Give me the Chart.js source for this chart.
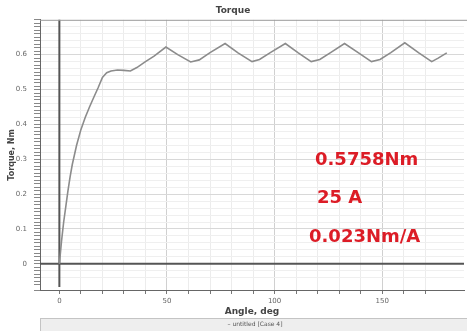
<!DOCTYPE html>
<html>
<head>
<meta charset="utf-8">
<script src="https://cdn.jsdelivr.net/npm/chart.js@4.4.1/dist/chart.umd.min.js"></script>
<style>
  html, body { margin: 0; padding: 0; background: #fff; }
  #wrap { width: 467px; height: 331px; position: relative; }
</style>
</head>
<body>
<div id="wrap"><canvas id="torqueChart"></canvas></div>
<script>
// data
const angles = [0, 1, 2, 3, 4, 5, 6, 8, 10, 12, 14, 16, 18, 20, 22, 24, 27, 30, 33, 36, 40, 44, 49.5,
  55, 61, 65, 70, 77, 83, 89.5, 93, 98, 105, 111, 117, 121, 126, 132.5, 139, 145, 149, 154, 160.5,
  167, 173, 176, 180];
const torque = [0, 0.065, 0.12, 0.165, 0.21, 0.25, 0.285, 0.34, 0.385, 0.42, 0.45, 0.478, 0.505, 0.535,
  0.548, 0.553, 0.556, 0.555, 0.553, 0.563, 0.58, 0.596, 0.622,
  0.6, 0.579, 0.585, 0.606, 0.632, 0.605, 0.58, 0.586, 0.606, 0.632, 0.605, 0.58, 0.586, 0.606, 0.632,
  0.605, 0.58, 0.586, 0.606, 0.634, 0.605, 0.58, 0.59, 0.605];
const xLabels = [0, 50, 100, 150];
const notes = ["0.5758Nm", "25 A", "0.023Nm/A"];
const legendText = "\u2013 untitled [Case 4]";

const isMult = (v, step) => Math.abs(v / step - Math.round(v / step)) < 1e-6;
const clear = "rgba(0,0,0,0)";

// dark zero lines drawn over the grid
const zeroLines = {
  id: "zeroLines",
  beforeDatasetsDraw(chart) {
    const ctx = chart.ctx;
    const a = chart.chartArea;
    const x0 = chart.scales.x.getPixelForValue(0);
    const y0 = chart.scales.y.getPixelForValue(0);
    ctx.save();
    ctx.strokeStyle = "#555";
    ctx.lineWidth = 2;
    ctx.beginPath();
    ctx.moveTo(x0, a.top);
    ctx.lineTo(x0, a.bottom - 3);
    ctx.moveTo(a.left, y0);
    ctx.lineTo(a.right, y0);
    ctx.stroke();
    ctx.restore();
  }
};

// red notes + legend bar + top frame
const extras = {
  id: "extras",
  afterDraw(chart) {
    const ctx = chart.ctx;
    const a = chart.chartArea;
    ctx.save();
    ctx.strokeStyle = "#9a9a9a";
    ctx.lineWidth = 1;
    ctx.beginPath();
    ctx.moveTo(a.left, a.top + 0.5);
    ctx.lineTo(467, a.top + 0.5);
    ctx.stroke();

    ctx.fillStyle = "#dc1c26";
    ctx.font = "bold 18px 'DejaVu Sans'";
    ctx.textAlign = "left";
    ctx.textBaseline = "alphabetic";
    ctx.fillText(notes[0], 315, 165);
    ctx.fillText(notes[1], 317, 203);
    ctx.fillText(notes[2], 309, 242);

    ctx.fillStyle = "#eeeeee";
    ctx.fillRect(a.left, 318, 467 - a.left, 14);
    ctx.strokeStyle = "#c4c4c4";
    ctx.strokeRect(a.left + 0.5, 318.5, 467 - a.left, 14);
    ctx.fillStyle = "#555";
    ctx.font = "6px 'DejaVu Sans'";
    ctx.textAlign = "center";
    ctx.textBaseline = "middle";
    ctx.fillText(legendText, 255, 324);
    ctx.restore();
  }
};

new Chart(document.getElementById("torqueChart"), {
  type: "line",
  data: {
    datasets: [{
      data: angles.map((a, i) => ({ x: a, y: torque[i] })),
      borderColor: "#8c8c8c",
      borderWidth: 1.6,
      pointRadius: 0,
      tension: 0,
      fill: false
    }]
  },
  options: {
    responsive: true,
    maintainAspectRatio: false,
    animation: false,
    layout: { padding: { top: 0, right: 1, bottom: 0, left: 0 } },
    plugins: {
      legend: { display: false },
      tooltip: { enabled: false },
      title: {
        display: true,
        text: "Torque",
        color: "#444",
        font: { family: "'DejaVu Sans'", size: 9, weight: "bold" },
        padding: { top: 5, bottom: 4 }
      }
    },
    scales: {
      x: {
        type: "linear",
        min: -9,
        max: 188,
        afterFit: (s) => { s.height = 41; },
        border: { display: true, color: "#666", width: 1 },
        grid: {
          color: (c) => {
            const v = c.tick.value;
            if (v <= 0 || v > 180) return clear;
            return isMult(v, 50) ? "#d0d0d0" : "#ececec";
          },
          tickColor: (c) => (c.tick.value < 0 || c.tick.value > 180 ? clear : "#777"),
          tickLength: 4
        },
        ticks: {
          stepSize: 10,
          autoSkip: false,
          maxRotation: 0,
          padding: 3,
          color: "#666",
          font: { family: "'DejaVu Sans'", size: 7 },
          callback: (v) => (xLabels.includes(v) ? String(v) : "")
        },
        title: {
          display: true,
          text: "Angle, deg",
          color: "#444",
          font: { family: "'DejaVu Sans'", size: 9, weight: "bold" },
          padding: { top: 0, bottom: 14 }
        }
      },
      y: {
        min: -0.075,
        max: 0.7,
        afterFit: (s) => { s.width = 40; },
        border: { display: true, color: "#666", width: 1 },
        grid: {
          color: (c) => {
            const v = c.tick.value;
            if (Math.abs(v) < 1e-9 || v < -0.05 || v > 0.69) return clear;
            if (isMult(v, 0.1)) return "#d8d8d8";
            if (isMult(v, 0.02)) return "#efefef";
            return clear;
          },
          tickColor: "#888",
          tickLength: 6
        },
        ticks: {
          stepSize: 0.01,
          autoSkip: false,
          padding: 7,
          color: "#666",
          font: { family: "'DejaVu Sans'", size: 7 },
          callback: (v) => {
            if (!isMult(v, 0.1) || v > 0.65) return "";
            return Math.abs(v) < 1e-9 ? "0" : v.toFixed(1);
          }
        },
        title: {
          display: true,
          text: "Torque, Nm",
          color: "#444",
          font: { family: "'DejaVu Sans'", size: 8, weight: "bold" },
          padding: { top: 7, bottom: 0 }
        }
      }
    }
  },
  plugins: [zeroLines, extras]
});
</script>
</body>
</html>
